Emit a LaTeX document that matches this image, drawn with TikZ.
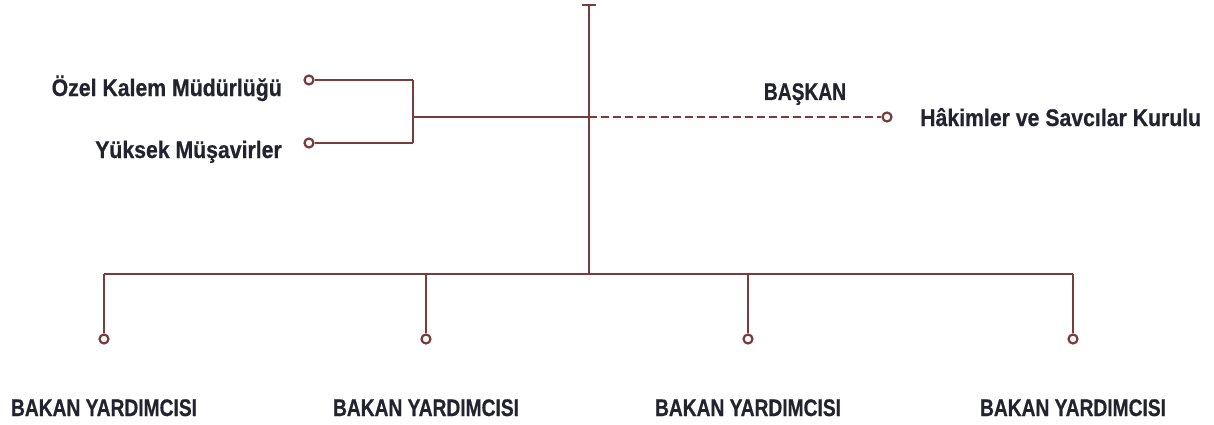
\documentclass[tikz,border=0pt]{standalone}
\usepackage{fontspec}
\newfontfamily\capsfont{Liberation Sans}[FakeStretch=0.80,FakeBold=0.6]
\newfontfamily\mixfont{Liberation Sans}[FakeStretch=0.885,FakeBold=0.6]
\definecolor{linec}{HTML}{7A3B3D}
\definecolor{textc}{HTML}{23232F}
\begin{document}
\begin{tikzpicture}[x=1pt,y=-1pt,
  conn/.style={draw=linec,line width=2.2pt},
  dashconn/.style={conn,dash pattern=on 8pt off 4pt},
  endpt/.style={circle,draw=linec,line width=2.2pt,fill=white,inner sep=0pt,minimum size=9pt},
  caplab/.style={text=textc,inner sep=0pt,font=\capsfont\bfseries\fontsize{24}{27}\selectfont},
  mixlab/.style={text=textc,inner sep=0pt,font=\mixfont\bfseries\fontsize{24}{27}\selectfont}]
\useasboundingbox (0,0) rectangle (1214,425);
% coordinates
\coordinate (top) at (589,5);
\coordinate (tickL) at (582,5);
\coordinate (tickR) at (596,5);
\coordinate (hub) at (589,117);
\coordinate (bus) at (589,274);
\coordinate (d1) at (104,274);
\coordinate (d2) at (426,274);
\coordinate (d3) at (748,274);
\coordinate (d4) at (1073,274);
\coordinate (br) at (413,117);
\coordinate (brT) at (413,80);
\coordinate (brB) at (413,143);
% endpoint circles
\node[endpt] (c1) at (104,339) {};
\node[endpt] (c2) at (426,339) {};
\node[endpt] (c3) at (748,339) {};
\node[endpt] (c4) at (1073,339) {};
\node[endpt] (o1) at (309,80) {};
\node[endpt] (o2) at (309,143) {};
\node[endpt] (h) at (887,117) {};
% connectors
\draw[conn] (tickL) -- (tickR);
\draw[conn] (top) -- (bus);
\draw[conn] (d1) -- (d4);
\draw[conn] (d1) -- (c1);
\draw[conn] (d2) -- (c2);
\draw[conn] (d3) -- (c3);
\draw[conn] (d4) -- (c4);
\draw[conn] (hub) -- (br);
\draw[conn] (brT) -- (brB);
\draw[conn] (brT) -- (o1);
\draw[conn] (brB) -- (o2);
\draw[dashconn] (hub) -- (h);
% labels
\node[caplab,anchor=base] (l1) at (104,416) {BAKAN YARDIMCISI};
\node[caplab,anchor=base] (l2) at (426,416) {BAKAN YARDIMCISI};
\node[caplab,anchor=base] (l3) at (748,416) {BAKAN YARDIMCISI};
\node[caplab,anchor=base] (l4) at (1073,416) {BAKAN YARDIMCISI};
\node[caplab,anchor=base] (bs) at (805,100) {BAŞKAN};
\node[mixlab,anchor=base west] (hk) at (920,126) {Hâkimler ve Savcılar Kurulu};
\node[mixlab,anchor=base east] (oz) at (282,96) {Özel Kalem Müdürlüğü};
\node[mixlab,anchor=base east] (ym) at (282,158) {Yüksek Müşavirler};
\end{tikzpicture}
\end{document}
